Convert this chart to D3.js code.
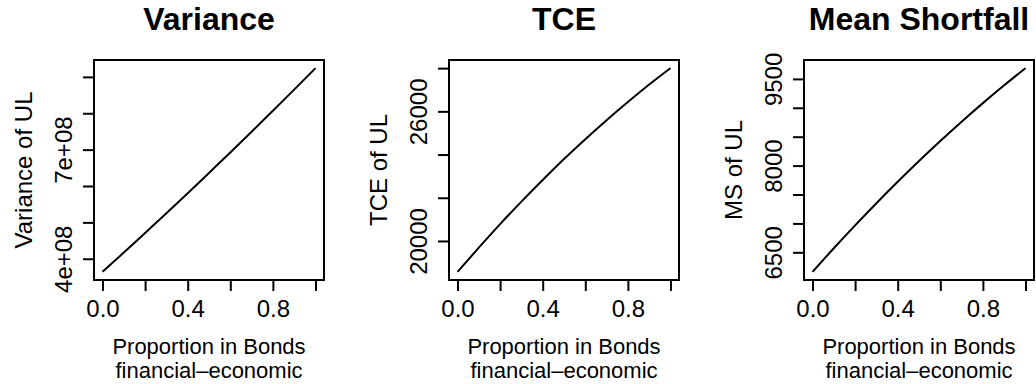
<!DOCTYPE html>
<html>
<head>
<meta charset="utf-8">
<script src="https://cdn.jsdelivr.net/npm/d3@7/dist/d3.min.js"></script>
<style>
  html, body { margin: 0; padding: 0; background: #fff; }
  svg { display: block; font-family: "Liberation Sans", Arial, Helvetica, sans-serif; }
</style>
</head>
<body>
<svg id="chart" width="1036" height="384"></svg>
<script>
// Proportion of the portfolio held in bonds
const proportion = [0.0, 0.1, 0.2, 0.3, 0.4, 0.5, 0.6, 0.7, 0.8, 0.9, 1.0];

// Risk measures of the unexpected loss (UL) for each proportion
const varianceUL = [3.64e8, 4.17e8, 4.71e8, 5.25e8, 5.80e8, 6.36e8, 6.92e8, 7.49e8, 8.07e8, 8.65e8, 9.24e8];
const tceUL = [18570, 19690, 20780, 21820, 22820, 23790, 24710, 25590, 26430, 27240, 28000];
const msUL = [6162, 6570, 6966, 7350, 7720, 8079, 8425, 8759, 9081, 9389, 9686];

// Axis ticks and their printed labels (blank where labels would collide)
const xTicks = [0.0, 0.2, 0.4, 0.6, 0.8, 1.0];
const xTickLabels = ["0.0", "", "0.4", "", "0.8", ""];
const varTicks = [4e8, 5e8, 6e8, 7e8, 8e8, 9e8];
const varTickLabels = ["4e+08", "", "", "7e+08", "", ""];
const tceTicks = [20000, 22000, 24000, 26000, 28000];
const tceTickLabels = ["20000", "", "", "26000", ""];
const msTicks = [6500, 7000, 7500, 8000, 8500, 9000, 9500];
const msTickLabels = ["6500", "", "", "8000", "", "", "9500"];

const titles = ["Variance", "TCE", "Mean Shortfall"];
const yTitles = ["Variance of UL", "TCE of UL", "MS of UL"];
const xTitleLines = ["Proportion in Bonds", "financial\u2013economic"];

const panels = [
  { title: titles[0], yTitle: yTitles[0], values: varianceUL, ticks: varTicks, labels: varTickLabels },
  { title: titles[1], yTitle: yTitles[1], values: tceUL, ticks: tceTicks, labels: tceTickLabels },
  { title: titles[2], yTitle: yTitles[2], values: msUL, ticks: msTicks, labels: msTickLabels }
];

const svg = d3.select("#chart");
svg.append("rect").attr("width", 1036).attr("height", 384).attr("fill", "#fff");

const boxW = 230, boxTop = 60, boxBottom = 280, firstLeft = 94, step = 355;
const tickLen = 11;

// R-style 4% padding around the data range
function padded(ext) {
  const r = ext[1] - ext[0];
  return [ext[0] - 0.04 * r, ext[1] + 0.04 * r];
}

panels.forEach((p, i) => {
  const left = firstLeft + i * step;
  const right = left + boxW;
  const cx = (left + right) / 2;

  const x = d3.scaleLinear().domain(padded(d3.extent(proportion))).range([left, right]);
  const y = d3.scaleLinear().domain(padded(d3.extent(p.values))).range([boxBottom, boxTop]);

  const g = svg.append("g");

  // x axis
  const xAxis = d3.axisBottom(x)
    .tickValues(xTicks)
    .tickSize(tickLen)
    .tickPadding(0)
    .tickFormat((d, k) => xTickLabels[k]);
  const gx = g.append("g").attr("transform", `translate(0,${boxBottom})`).call(xAxis)
    .attr("font-family", null).attr("font-size", null);
  gx.select(".domain").remove();
  gx.selectAll(".tick line").attr("stroke", "#000").attr("stroke-width", 2);
  gx.selectAll(".tick text")
    .attr("y", 36.5).attr("dy", 0)
    .attr("fill", "#000")
    .style("font-size", "24px");

  // y axis with rotated labels
  const yAxis = d3.axisLeft(y)
    .tickValues(p.ticks)
    .tickSize(tickLen)
    .tickFormat((d, k) => p.labels[k]);
  const gy = g.append("g").attr("transform", `translate(${left},0)`).call(yAxis)
    .attr("font-family", null).attr("font-size", null);
  gy.select(".domain").remove();
  gy.selectAll(".tick line").attr("stroke", "#000").attr("stroke-width", 2);
  gy.selectAll(".tick text")
    .attr("transform", "rotate(-90)")
    .attr("x", 0).attr("y", -22.5).attr("dy", 0)
    .attr("text-anchor", "middle")
    .attr("fill", "#000")
    .style("font-size", "24px");

  // plot box
  g.append("rect")
    .attr("x", left).attr("y", boxTop)
    .attr("width", boxW).attr("height", boxBottom - boxTop)
    .attr("fill", "none").attr("stroke", "#000").attr("stroke-width", 2);

  // curve
  const line = d3.line()
    .x((d, k) => x(proportion[k]))
    .y(d => y(d))
    .curve(d3.curveMonotoneX);
  g.append("path")
    .datum(p.values)
    .attr("d", line)
    .attr("fill", "none")
    .attr("stroke", "#000")
    .attr("stroke-width", 2);

  // panel title
  g.append("text")
    .attr("x", cx).attr("y", 30)
    .attr("text-anchor", "middle")
    .style("font-size", "32px").style("font-weight", "bold")
    .text(p.title);

  // y title
  g.append("text")
    .attr("transform", `translate(${left - 62},${(boxTop + boxBottom) / 2}) rotate(-90)`)
    .attr("text-anchor", "middle")
    .style("font-size", "24px")
    .text(p.yTitle);

  // x title on two lines
  g.append("text")
    .attr("x", cx).attr("y", 354)
    .attr("text-anchor", "middle")
    .style("font-size", "22px")
    .text(xTitleLines[0]);
  g.append("text")
    .attr("x", cx).attr("y", 378)
    .attr("text-anchor", "middle")
    .style("font-size", "22px")
    .text(xTitleLines[1]);
});
</script>
</body>
</html>
